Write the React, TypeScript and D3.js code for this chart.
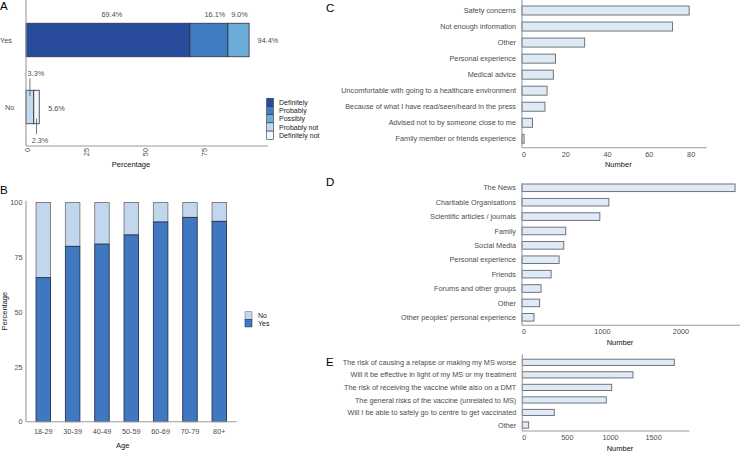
import { useEffect, useRef } from "react";
import * as d3 from "d3";

const WIDTH = 740;
const HEIGHT = 452;
const FONT = "'Liberation Sans', Arial, Helvetica, sans-serif";
const TICK_COLOR = "#4d4d4d";
const AXIS_COLOR = "#9a9a9a";

// Panel A: vaccine intention
const A_CATEGORIES = ["Yes", "No"];
const A_LEVELS = ["Definitely", "Probably", "Possibly", "Probably not", "Definitely not"];
const A_YES = [69.4, 16.1, 9.0, 0, 0];
const A_NO = [0, 0, 0, 3.3, 2.3];
const A_TOTALS = [94.4, 5.6];
const A_TICKS = [0, 25, 50, 75];
const A_COLORS = ["#2a4b9c", "#3f7dc3", "#6badd8", "#c4dbee", "#f3f6fb"];

// Panel B: intention by age
const AGE_GROUPS = ["18-29", "30-39", "40-49", "50-59", "60-69", "70-79", "80+"];
const B_YES = [65.7, 80.0, 81.0, 85.2, 91.1, 93.2, 91.4];
const B_NO = [34.3, 20.0, 19.0, 14.8, 8.9, 6.8, 8.6];
const B_TICKS = [0, 25, 50, 75, 100];

// Panel C: reasons for hesitancy
const C_REASONS = [
  "Safety concerns",
  "Not enough information",
  "Other",
  "Personal experience",
  "Medical advice",
  "Uncomfortable with going to a healthcare environment",
  "Because of what I have read/seen/heard in the press",
  "Advised not to by someone close to me",
  "Family member or friends experience"
];
const C_COUNTS = [80, 72, 30, 16, 15, 12, 11, 5, 1];
const C_TICKS = [0, 20, 40, 60, 80];

// Panel D: information sources
const D_SOURCES = [
  "The News",
  "Charitable Organisations",
  "Scientific articles / journals",
  "Family",
  "Social Media",
  "Personal experience",
  "Friends",
  "Forums and other groups",
  "Other",
  "Other peoples' personal experience"
];
const D_COUNTS = [2715, 1107, 992, 558, 532, 473, 371, 243, 225, 153];
const D_TICKS = [0, 1000, 2000];

// Panel E: concerns
const E_CONCERNS = [
  "The risk of causing a relapse or making my MS worse",
  "Will it be effective in light of my MS or my treatment",
  "The risk of receiving the vaccine while also on a DMT",
  "The general risks of the vaccine (unrelated to MS)",
  "Will I be able to safely go to centre to get vaccinated",
  "Other"
];
const E_COUNTS = [1763, 1284, 1037, 974, 371, 74];
const E_TICKS = [0, 500, 1000, 1500];

function txt(g, x, y, s, opts = {}) {
  return g
    .append("text")
    .attr("x", x)
    .attr("y", y)
    .attr("font-family", FONT)
    .attr("font-size", opts.size || 7.3)
    .attr("fill", opts.fill || TICK_COLOR)
    .attr("text-anchor", opts.anchor || "start")
    .text(s);
}

function line(g, x1, y1, x2, y2, color = AXIS_COLOR, w = 1.1) {
  g.append("line")
    .attr("x1", x1)
    .attr("y1", y1)
    .attr("x2", x2)
    .attr("y2", y2)
    .attr("stroke", color)
    .attr("stroke-width", w);
}

function drawHBars(svg, cfg) {
  const g = svg.append("g");
  const x = d3.scaleLinear().domain([0, cfg.max]).range([cfg.left, cfg.right]);
  const y = d3.scalePoint().domain(cfg.cats).range(cfg.centers);

  cfg.cats.forEach((cat, i) => {
    g.append("rect")
      .attr("x", x(0))
      .attr("y", y(cat) - cfg.barH / 2)
      .attr("width", x(cfg.values[i]) - x(0))
      .attr("height", cfg.barH)
      .attr("fill", "#deeaf7")
      .attr("stroke", "#666")
      .attr("stroke-width", 0.9);
    txt(g, cfg.left - 6, y(cat) + 2.6, cat, { anchor: "end" });
  });

  line(g, cfg.left, cfg.axisTop, cfg.left, cfg.axisBottom);
  line(g, cfg.left, cfg.axisBottom, cfg.right, cfg.axisBottom);

  cfg.ticks.forEach((t) => {
    txt(g, x(t) + 2, cfg.axisBottom + 9, String(t), { anchor: "middle" });
  });
  txt(g, cfg.titleX, cfg.axisBottom + 19.5, "Number", { anchor: "middle", fill: "#111", size: 7.5 });
  txt(g, 326, cfg.letterY, cfg.letter, { fill: "#000", size: 11.5 });
}

export default function App() {
  const svgRef = useRef(null);

  useEffect(() => {
    const svg = d3.select(svgRef.current);
    svg.selectAll("*").remove();
    svg.append("rect").attr("width", WIDTH).attr("height", HEIGHT).attr("fill", "#fff");

    // ---------- Panel A ----------
    const a = svg.append("g");
    const ax = d3.scaleLinear().domain([0, 102.5]).range([26, 268]);
    const ay = d3.scalePoint().domain(A_CATEGORIES).range([40, 107]);
    const aBarH = 33.5;

    [A_YES, A_NO].forEach((vals, ci) => {
      let cum = 0;
      vals.forEach((v, li) => {
        if (v > 0) {
          a.append("rect")
            .attr("x", ax(cum))
            .attr("y", ay(A_CATEGORIES[ci]) - aBarH / 2)
            .attr("width", ax(cum + v) - ax(cum))
            .attr("height", aBarH)
            .attr("fill", A_COLORS[li])
            .attr("stroke", "#2b2f3e")
            .attr("stroke-width", 0.8);
        }
        cum += v;
      });
      txt(a, ci === 0 ? 0 : 5, ay(A_CATEGORIES[ci]) + 2.6, A_CATEGORIES[ci]);
    });

    // segment labels on "Yes"
    const yesTop = ay("Yes") - aBarH / 2;
    const nudges = [4, 6, 1];
    let cumYes = 0;
    A_YES.slice(0, 3).forEach((v, i) => {
      txt(a, ax(cumYes + v / 2) + nudges[i], yesTop - 6, `${v.toFixed(1)}%`, { anchor: "middle" });
      cumYes += v;
    });
    txt(a, ax(cumYes) + 8.5, ay("Yes") + 2.6, `${A_TOTALS[0].toFixed(1)}%`);

    // labels on "No" with leader lines
    const noTop = ay("No") - aBarH / 2;
    const noBottom = ay("No") + aBarH / 2;
    const pnX = ax(A_NO[3] / 2);
    const dnX = ax(A_NO[3] + A_NO[4] / 2);
    line(a, pnX, noTop - 12, pnX, noTop + 6, "#555", 0.8);
    txt(a, pnX + 6, noTop - 14.5, `${A_NO[3].toFixed(1)}%`, { anchor: "middle" });
    line(a, dnX, noBottom - 5, dnX, noBottom + 10.5, "#555", 0.8);
    txt(a, dnX + 3.5, noBottom + 19.5, `${A_NO[4].toFixed(1)}%`, { anchor: "middle" });
    txt(a, ax(A_TOTALS[1]) + 9, ay("No") + 3.6, `${A_TOTALS[1].toFixed(1)}%`);

    line(a, 26, 0, 26, 146);
    line(a, 26, 146, 268, 146);
    A_TICKS.forEach((t) => {
      a.append("text")
        .attr("transform", `translate(${ax(t) + 4}, 148) rotate(-90)`)
        .attr("text-anchor", "end")
        .attr("font-family", FONT)
        .attr("font-size", 7.3)
        .attr("fill", TICK_COLOR)
        .text(t);
    });
    txt(a, 131, 167, "Percentage", { anchor: "middle", fill: "#111", size: 7.5 });
    txt(a, 0, 10, "A", { fill: "#000", size: 11.5 });

    // legend A
    A_LEVELS.forEach((lvl, i) => {
      const y0 = 98.3 + i * 8.2;
      a.append("rect")
        .attr("x", 266.7)
        .attr("y", y0)
        .attr("width", 6.7)
        .attr("height", 8.2)
        .attr("fill", A_COLORS[i])
        .attr("stroke", "#2b2f3e")
        .attr("stroke-width", 0.6);
      txt(a, 279, y0 + 6.6, lvl, { fill: "#222", size: 7 });
    });

    // ---------- Panel B ----------
    const b = svg.append("g");
    const bx = d3.scalePoint().domain(AGE_GROUPS).range([43.3, 219.3]);
    const by = d3.scaleLinear().domain([0, 100]).range([421.7, 202.5]);
    const bW = 14.5;

    AGE_GROUPS.forEach((age, i) => {
      b.append("rect")
        .attr("x", bx(age) - bW / 2)
        .attr("y", by(B_YES[i] + B_NO[i]))
        .attr("width", bW)
        .attr("height", by(B_YES[i]) - by(B_YES[i] + B_NO[i]))
        .attr("fill", "#c2d7ee")
        .attr("stroke", "#7a7a7a")
        .attr("stroke-width", 0.9);
      b.append("rect")
        .attr("x", bx(age) - bW / 2)
        .attr("y", by(B_YES[i]))
        .attr("width", bW)
        .attr("height", by(0) - by(B_YES[i]))
        .attr("fill", "#3f78c1")
        .attr("stroke", "#22334f")
        .attr("stroke-width", 0.9);
      txt(b, bx(age), 433.6, age, { anchor: "middle" });
    });

    line(b, 26, 200.7, 26, 421.7);
    line(b, 26, 421.7, 236.7, 421.7);
    B_TICKS.forEach((t) => {
      txt(b, 22.5, by(t) + 2.6, String(t), { anchor: "end" });
    });
    txt(b, 122.7, 448, "Age", { anchor: "middle", fill: "#111", size: 7.5 });
    b.append("text")
      .attr("transform", `translate(6.5, 311) rotate(-90)`)
      .attr("text-anchor", "middle")
      .attr("font-family", FONT)
      .attr("font-size", 7.5)
      .attr("fill", "#111")
      .text("Percentage");
    txt(b, 0, 193.5, "B", { fill: "#000", size: 11.5 });

    // legend B
    [
      { label: "No", fill: "#c2d7ee", stroke: "#7a7a7a" },
      { label: "Yes", fill: "#3f78c1", stroke: "#22334f" }
    ].forEach((item, i) => {
      const y0 = 311.7 + i * 7.6;
      b.append("rect")
        .attr("x", 245)
        .attr("y", y0)
        .attr("width", 7)
        .attr("height", 7.6)
        .attr("fill", item.fill)
        .attr("stroke", item.stroke)
        .attr("stroke-width", 0.6);
      txt(b, 258, y0 + 6.2, item.label, { fill: "#222", size: 7 });
    });

    // ---------- Panels C, D, E ----------
    drawHBars(svg, {
      cats: C_REASONS,
      values: C_COUNTS,
      ticks: C_TICKS,
      max: 88.4,
      left: 522,
      right: 706.7,
      centers: [10.5, 138.8],
      barH: 9,
      axisTop: 0,
      axisBottom: 147.7,
      titleX: 618.3,
      letter: "C",
      letterY: 12
    });

    drawHBars(svg, {
      cats: D_SOURCES,
      values: D_COUNTS,
      ticks: D_TICKS,
      max: 2778,
      left: 522,
      right: 740,
      centers: [187.8, 317.3],
      barH: 7.6,
      axisTop: 183.3,
      axisBottom: 325.3,
      titleX: 620,
      letter: "D",
      letterY: 186
    });

    drawHBars(svg, {
      cats: E_CONCERNS,
      values: E_COUNTS,
      ticks: E_TICKS,
      max: 1937,
      left: 522.3,
      right: 689.3,
      centers: [362.3, 425],
      barH: 6.2,
      axisTop: 354.3,
      axisBottom: 431,
      titleX: 620,
      letter: "E",
      letterY: 366
    });
  }, []);

  return (
    <svg
      ref={svgRef}
      width={WIDTH}
      height={HEIGHT}
      style={{ position: "absolute", left: 0, top: 0 }}
      role="img"
      aria-label="Vaccine survey charts"
    />
  );
}
